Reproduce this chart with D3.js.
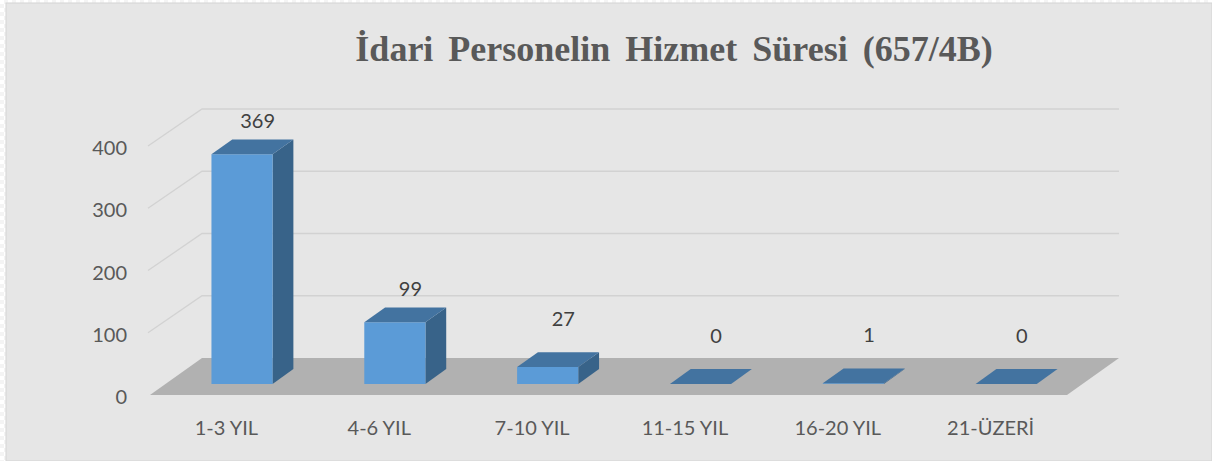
<!DOCTYPE html>
<html><head><meta charset="utf-8">
<script src="https://cdn.jsdelivr.net/npm/d3@7/dist/d3.min.js"></script>
<style>html,body{margin:0;padding:0;background:#fff;}svg{display:block;}</style>
</head><body>
<svg id="c" width="1212" height="461"></svg>
<script>
const title = "İdari Personelin Hizmet Süresi (657/4B)";
const categories = ["1-3 YIL", "4-6 YIL", "7-10 YIL", "11-15 YIL", "16-20 YIL", "21-ÜZERİ"];
const values = [369, 99, 27, 0, 1, 0];
const yTicks = [0, 100, 200, 300, 400];

const W = 1212, H = 461;
const svg = d3.select("#c");

// checker border
const defs = svg.append("defs");
const pat = defs.append("pattern").attr("id", "chk").attr("width", 8).attr("height", 8).attr("patternUnits", "userSpaceOnUse");
pat.append("rect").attr("width", 8).attr("height", 8).attr("fill", "#f4f4f4");
pat.append("rect").attr("width", 4).attr("height", 4).attr("fill", "#ffffff");
pat.append("rect").attr("x", 4).attr("y", 4).attr("width", 4).attr("height", 4).attr("fill", "#ffffff");
svg.append("rect").attr("width", W).attr("height", H).attr("fill", "url(#chk)");
svg.append("rect").attr("x", 6).attr("y", 3).attr("width", W - 6).attr("height", H - 3).attr("fill", "#e6e6e6").attr("stroke", "#d4d4d4").attr("stroke-width", 1);

// 3D geometry
const floorFrontY = 395, depthX = 52, depthY = -37;
const x = d3.scaleBand().domain(categories).range([150, 1067]).paddingInner(0.6).paddingOuter(0.3);
const y = d3.scaleLinear().domain([0, 400]).range([0, 249]);
const P = (sx, v, d) => [sx + depthX * d, floorFrontY - y(v) - (-depthY) * d];
const x0 = 150, x1 = 1067;

// gridlines (back wall + left wall)
const grid = svg.append("g");
yTicks.filter(t => t > 0).forEach(t => {
  const a = P(x0 - 2, t, 0), b = P(x0, t, 1), c = P(x1, t, 1);
  grid.append("polyline").attr("points", [a, b, c].map(p => p.join(",")).join(" "))
    .attr("fill", "none").attr("stroke", "#d2d2d2").attr("stroke-width", 1.3);
});

// floor
const fl = [P(x0, 0, 0), P(x0, 0, 1), P(x1, 0, 1), P(x1, 0, 0)];
svg.append("polygon").attr("points", fl.map(p => p.join(",")).join(" ")).attr("fill", "#b1b1b1");

// y tick labels
const font = "Lato, 'Open Sans', sans-serif";
svg.append("g").selectAll("text").data(yTicks).join("text")
  .attr("x", 127).attr("y", t => P(x0, t, 0)[1] + 1)
  .attr("text-anchor", "end").attr("dominant-baseline", "central")
  .attr("font-family", font).attr("font-size", 20).attr("fill", "#595959")
  .text(t => t);

// bars
const bw = x.bandwidth();
const bars = svg.append("g");
categories.forEach((cat, i) => {
  const v = values[i];
  const xl = x(cat), xr = xl + bw;
  const d0 = 0.3, d1 = 0.7;
  const fTL = P(xl, v, d0), fTR = P(xr, v, d0), fBR = P(xr, 0, d0), fBL = P(xl, 0, d0);
  const bTL = P(xl, v, d1), bTR = P(xr, v, d1), bBR = P(xr, 0, d1);
  const pts = a => a.map(p => p.join(",")).join(" ");
  if (v > 0) {
    bars.append("polygon").attr("points", pts([fTR, bTR, bBR, fBR])).attr("fill", "#386389");
    bars.append("polygon").attr("points", pts([fTL, fTR, fBR, fBL])).attr("fill", "#5b9bd7");
  }
  bars.append("polygon").attr("points", pts([fTL, fTR, bTR, bTL])).attr("fill", "#4373a0");
});

// data labels
svg.append("g").selectAll("text").data(values).join("text")
  .attr("x", (v, i) => x(categories[i]) + bw / 2 + depthX * 0.6)
  .attr("y", v => P(0, v, 0.7)[1] - (v < 50 ? 34 : 19))
  .attr("text-anchor", "middle").attr("dominant-baseline", "central")
  .attr("font-family", font).attr("font-size", 20).attr("fill", "#404040")
  .text(v => v);

// category labels
svg.append("g").selectAll("text").data(categories).join("text")
  .attr("x", c => x(c) + bw / 2)
  .attr("y", 435)
  .attr("text-anchor", "middle")
  .attr("font-family", font).attr("font-size", 20).attr("fill", "#595959")
  .text(c => c);

// title
svg.append("text").attr("x", 674).attr("y", 61).attr("text-anchor", "middle")
  .attr("font-family", "'Liberation Serif', 'Times New Roman', serif").attr("font-weight", "bold")
  .attr("font-size", 36).attr("word-spacing", 6).attr("fill", "#595959")
  .text(title);
</script>
</body></html>
